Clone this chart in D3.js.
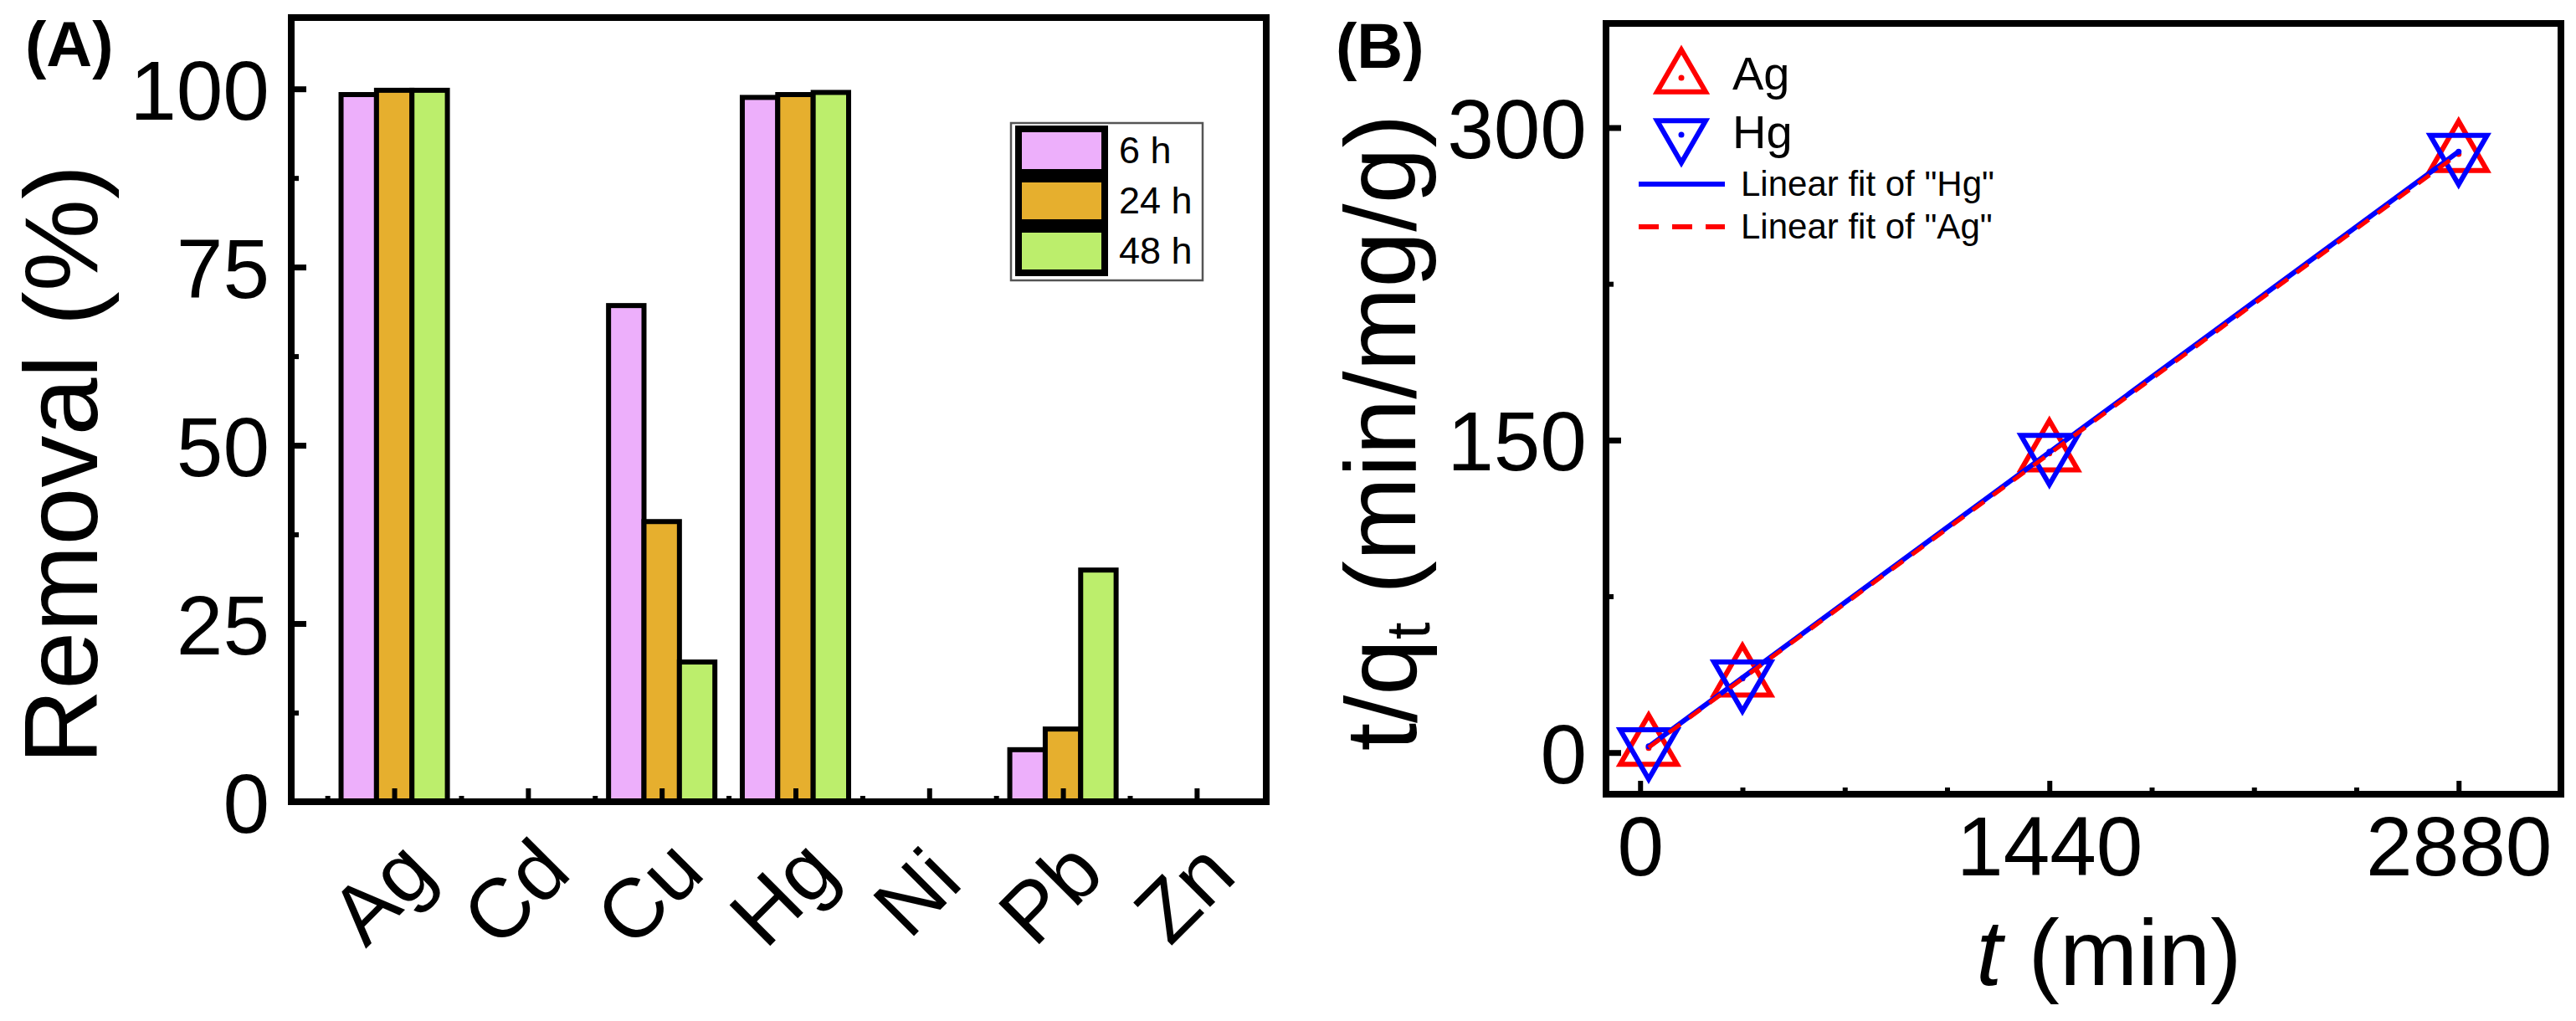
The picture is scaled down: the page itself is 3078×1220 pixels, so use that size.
<!DOCTYPE html>
<html>
<head>
<meta charset="utf-8">
<script src="https://cdn.jsdelivr.net/npm/d3@7"></script>
<style>
  body { margin: 0; background: #fff; }
  text { font-family: "Liberation Sans", Arial, sans-serif; fill: #000; }
</style>
</head>
<body>
<svg id="chart" width="3078" height="1220"></svg>
<script>
// Panel A data: removal (%) per metal at three contact times
const metals = ["Ag", "Cd", "Cu", "Hg", "Ni", "Pb", "Zn"];
const timeLabels = ["6 h", "24 h", "48 h"];
const removal6h = [99.2, 0, 69.6, 98.8, 0, 7.3, 0];
const removal24h = [99.8, 0, 39.3, 99.2, 0, 10.2, 0];
const removal48h = [99.8, 0, 19.6, 99.5, 0, 32.5, 0];
const barColors = ["#EDAFFB", "#E6AF2E", "#BCEE6C"];
const removalTicks = [0, 25, 50, 75, 100];

// Panel B data: pseudo-second-order kinetics
const timeMin = [30, 360, 1440, 2880];
const agTQ = [2.2, 35.5, 143.6, 287.3];
const hgTQ = [3.0, 35.6, 144.4, 288.4];
const timeTicks = [0, 1440, 2880];
const tqTicks = [0, 150, 300];

const svg = d3.select("#chart");

// ---------- Panel A ----------
const xA = d3.scaleLinear().domain([-0.77, 6.52]).range([348, 1513]);
const yA = d3.scaleLinear().domain([0, 110]).range([958, 21]);
const barW = 0.265;

const gA = svg.append("g");
const allRemoval = [removal6h, removal24h, removal48h];

allRemoval.forEach((vals, j) => {
  gA.append("g").selectAll("rect")
    .data(vals.map((v, i) => ({ i, v })).filter(d => d.v > 0))
    .enter()
    .append("rect")
    .attr("x", d => xA(d.i - 1.5 * barW + j * barW))
    .attr("width", xA(barW) - xA(0))
    .attr("y", d => yA(d.v))
    .attr("height", d => yA(0) - yA(d.v))
    .attr("fill", barColors[j])
    .attr("stroke", "#000")
    .attr("stroke-width", 6);
});

function styleTicks(g, width) {
  g.select(".domain").remove();
  g.selectAll(".tick line").attr("stroke", "#000").attr("stroke-width", width);
}

// y axis A
gA.append("g")
  .attr("transform", `translate(${xA.range()[0]},0)`)
  .call(d3.axisLeft(yA).tickValues(removalTicks).tickSizeInner(-18).tickSizeOuter(0).tickPadding(26))
  .call(g => styleTicks(g, 7))
  .selectAll("text").style("font-size", "100px").attr("dy", "0.36em");

gA.append("g")
  .attr("transform", `translate(${xA.range()[0]},0)`)
  .call(d3.axisLeft(yA).tickValues([12.5, 37.5, 62.5, 87.5]).tickSizeInner(-9).tickSizeOuter(0).tickFormat(""))
  .call(g => styleTicks(g, 6));

// x axis A
gA.append("g")
  .attr("transform", `translate(0,${yA(0)})`)
  .call(d3.axisBottom(xA).tickValues(d3.range(metals.length)).tickSizeInner(-16).tickSizeOuter(0)
    .tickFormat(i => metals[i]))
  .call(g => styleTicks(g, 6))
  .selectAll("text")
  .style("font-size", "100px")
  .attr("text-anchor", "middle")
  .attr("y", null)
  .attr("dy", "0.35em")
  .attr("transform", "translate(-16,108) rotate(-45)");

gA.append("g")
  .attr("transform", `translate(0,${yA(0)})`)
  .call(d3.axisBottom(xA).tickValues(d3.range(-0.5, 6.5, 1)).tickSizeInner(-7).tickSizeOuter(0).tickFormat(""))
  .call(g => styleTicks(g, 6));

// frame A
gA.append("rect")
  .attr("x", xA.range()[0]).attr("y", yA.range()[1])
  .attr("width", xA.range()[1] - xA.range()[0])
  .attr("height", yA.range()[0] - yA.range()[1])
  .attr("fill", "none").attr("stroke", "#000").attr("stroke-width", 8);

gA.append("text")
  .attr("transform", "translate(116,555) rotate(-90)")
  .attr("text-anchor", "middle")
  .style("font-size", "124px")
  .text("Removal (%)");

gA.append("text")
  .attr("x", 30).attr("y", 79)
  .style("font-size", "76px").style("font-weight", "bold")
  .text("(A)");

// legend A
const legA = gA.append("g").attr("transform", "translate(1208,147)");
legA.append("rect")
  .attr("width", 229).attr("height", 188)
  .attr("fill", "#fff").attr("stroke", "#555").attr("stroke-width", 2.5);
timeLabels.forEach((lab, j) => {
  const cy = 33 + j * 60;
  legA.append("rect")
    .attr("x", 9).attr("y", cy - 26)
    .attr("width", 103).attr("height", 52)
    .attr("fill", barColors[j]).attr("stroke", "#000").attr("stroke-width", 8);
  legA.append("text")
    .attr("x", 129).attr("y", cy + 15)
    .style("font-size", "45px")
    .text(lab);
});

// ---------- Panel B ----------
const xB = d3.scaleLinear().domain([-120, 3240]).range([1919, 3060]);
const yB = d3.scaleLinear().domain([-20, 350]).range([949, 28]);
const gB = svg.append("g");

function fit(xs, ys) {
  const mx = d3.mean(xs), my = d3.mean(ys);
  const sxy = d3.sum(xs, (x, i) => (x - mx) * (ys[i] - my));
  const sxx = d3.sum(xs, x => (x - mx) * (x - mx));
  const b = sxy / sxx;
  return { a: my - b * mx, b };
}

function triPath(w, up) {
  const h = w * 0.866;
  const r = 2 * h / 3, s = h / 3;
  return up
    ? `M0,${-r}L${w / 2},${s}L${-w / 2},${s}Z`
    : `M0,${r}L${w / 2},${-s}L${-w / 2},${-s}Z`;
}

function drawSymbols(g, ys, color, up, w) {
  const pts = timeMin.map((t, i) => ({ t, v: ys[i] }));
  const s = g.append("g").selectAll("g").data(pts).enter().append("g")
    .attr("transform", d => `translate(${xB(d.t)},${yB(d.v)})`);
  s.append("path").attr("d", triPath(w, up))
    .attr("fill", "none").attr("stroke", color).attr("stroke-width", 6)
    .attr("stroke-linejoin", "miter");
  s.append("circle").attr("r", 3.5).attr("fill", color);
}

drawSymbols(gB, agTQ, "#FF0000", true, 68);
drawSymbols(gB, hgTQ, "#0000FF", false, 68);

const line = d3.line().x(d => xB(d.t)).y(d => yB(d.v));
const tEnds = [timeMin[0], timeMin[timeMin.length - 1]];

const fitHg = fit(timeMin, hgTQ);
gB.append("path")
  .datum(tEnds.map(t => ({ t, v: fitHg.a + fitHg.b * t })))
  .attr("d", line).attr("fill", "none")
  .attr("stroke", "#0000FF").attr("stroke-width", 6);

const fitAg = fit(timeMin, agTQ);
gB.append("path")
  .datum(tEnds.map(t => ({ t, v: fitAg.a + fitAg.b * t })))
  .attr("d", line).attr("fill", "none")
  .attr("stroke", "#FF0000").attr("stroke-width", 5)
  .attr("stroke-dasharray", "17,13");

// axes B
gB.append("g")
  .attr("transform", `translate(${xB.range()[0]},0)`)
  .call(d3.axisLeft(yB).tickValues(tqTicks).tickSizeInner(-18).tickSizeOuter(0).tickPadding(23))
  .call(g => styleTicks(g, 7))
  .selectAll("text").style("font-size", "100px").attr("dy", "0.36em");

gB.append("g")
  .attr("transform", `translate(${xB.range()[0]},0)`)
  .call(d3.axisLeft(yB).tickValues([75, 225]).tickSizeInner(-9).tickSizeOuter(0).tickFormat(""))
  .call(g => styleTicks(g, 6));

gB.append("g")
  .attr("transform", `translate(0,${yB.range()[0]})`)
  .call(d3.axisBottom(xB).tickValues(timeTicks).tickSizeInner(-16).tickSizeOuter(0).tickPadding(26)
    .tickFormat(d3.format("d")))
  .call(g => styleTicks(g, 6))
  .selectAll("text").style("font-size", "100px");

gB.append("g")
  .attr("transform", `translate(0,${yB.range()[0]})`)
  .call(d3.axisBottom(xB).tickValues([360, 720, 1080, 1800, 2160, 2520]).tickSizeInner(-8).tickSizeOuter(0).tickFormat(""))
  .call(g => styleTicks(g, 6));

gB.append("rect")
  .attr("x", xB.range()[0]).attr("y", yB.range()[1])
  .attr("width", xB.range()[1] - xB.range()[0])
  .attr("height", yB.range()[0] - yB.range()[1])
  .attr("fill", "none").attr("stroke", "#000").attr("stroke-width", 8);

// axis titles B
const yTitle = gB.append("text")
  .attr("transform", "translate(1692,517) rotate(-90)")
  .attr("text-anchor", "middle")
  .style("font-size", "120px");
yTitle.append("tspan").text("t/q");
yTitle.append("tspan").attr("dy", "0.22em").style("font-size", "74px").text("t");
yTitle.append("tspan").attr("dy", "-0.14em").text(" (min/mg/g)");

const xTitle = gB.append("text")
  .attr("x", 2520).attr("y", 1177)
  .attr("text-anchor", "middle")
  .style("font-size", "112px");
xTitle.append("tspan").style("font-style", "italic").text("t");
xTitle.append("tspan").text(" (min)");

gB.append("text")
  .attr("x", 1596).attr("y", 81)
  .style("font-size", "76px").style("font-weight", "bold")
  .text("(B)");

// legend B
const legB = gB.append("g");
const symLegend = [
  { label: "Ag", color: "#FF0000", up: true, cy: 93, by: 107 },
  { label: "Hg", color: "#0000FF", up: false, cy: 161, by: 177 }
];
symLegend.forEach(d => {
  const s = legB.append("g").attr("transform", `translate(2009,${d.cy})`);
  s.append("path").attr("d", triPath(58, d.up))
    .attr("fill", "none").attr("stroke", d.color).attr("stroke-width", 6);
  s.append("circle").attr("r", 3.5).attr("fill", d.color);
  legB.append("text").attr("x", 2070).attr("y", d.by)
    .style("font-size", "56px").text(d.label);
});

const lineLegend = [
  { label: "Linear fit of \"Hg\"", color: "#0000FF", dash: null, y: 220 },
  { label: "Linear fit of \"Ag\"", color: "#FF0000", dash: "24,16", y: 271 }
];
lineLegend.forEach(d => {
  legB.append("line")
    .attr("x1", 1958).attr("x2", 2061).attr("y1", d.y).attr("y2", d.y)
    .attr("stroke", d.color).attr("stroke-width", 6)
    .attr("stroke-dasharray", d.dash);
  legB.append("text").attr("x", 2080).attr("y", d.y + 14)
    .style("font-size", "42px").text(d.label);
});
</script>
</body>
</html>
